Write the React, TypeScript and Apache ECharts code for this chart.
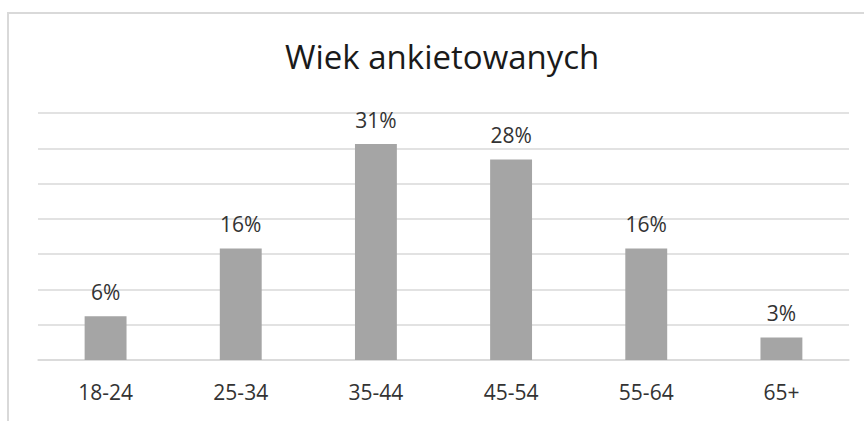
import React, { useEffect, useRef } from "react";
import * as echarts from "echarts";

const categories = ["18-24", "25-34", "35-44", "45-54", "55-64", "65+"];
const values = [6.2, 15.8, 30.6, 28.4, 15.8, 3.2];
const titleText = "Wiek ankietowanych";
const axisMax = 35;
const axisInterval = 5;

export default function App() {
  const ref = useRef<HTMLDivElement>(null);
  useEffect(() => {
    if (!ref.current) return;
    const chart = echarts.init(ref.current, null, { renderer: "svg" });
    chart.setOption({
      animation: false,
      backgroundColor: "#ffffff",
      title: {
        text: titleText,
        left: 285,
        top: 40,
        padding: 0,
        textStyle: {
          fontFamily: "Open Sans",
          fontSize: 33,
          fontWeight: "normal",
          color: "#1a1a1a",
        },
      },
      graphic: [
        {
          type: "rect",
          shape: { x: 8, y: 13, width: 900, height: 500 },
          style: { fill: "none", stroke: "#d9d9d9", lineWidth: 2 },
          silent: true,
          z: -10,
        },
      ],
      grid: { left: 38, right: 15, top: 113, bottom: 61 },
      xAxis: {
        type: "category",
        data: categories,
        axisLine: { show: true, lineStyle: { color: "#d9d9d9", width: 1.5 } },
        axisTick: { show: false },
        axisLabel: {
          margin: 21,
          fontFamily: "Open Sans",
          fontSize: 21,
          color: "#333333",
        },
      },
      yAxis: {
        type: "value",
        min: 0,
        max: axisMax,
        interval: axisInterval,
        axisLabel: { show: false },
        axisLine: { show: false },
        axisTick: { show: false },
        splitLine: { show: true, lineStyle: { color: "#d9d9d9", width: 1.5 } },
      },
      series: [
        {
          type: "bar",
          data: values,
          barWidth: "31%",
          itemStyle: { color: "#a5a5a5" },
          label: {
            show: true,
            position: "top",
            distance: 14,
            fontFamily: "Open Sans",
            fontSize: 21,
            color: "#333333",
            formatter: (p: any) => Math.round(p.value) + "%",
          },
        },
      ],
    });
    return () => chart.dispose();
  }, []);
  return (
    <div
      ref={ref}
      style={{ position: "fixed", left: 0, top: 0, width: 864, height: 421 }}
    />
  );
}
